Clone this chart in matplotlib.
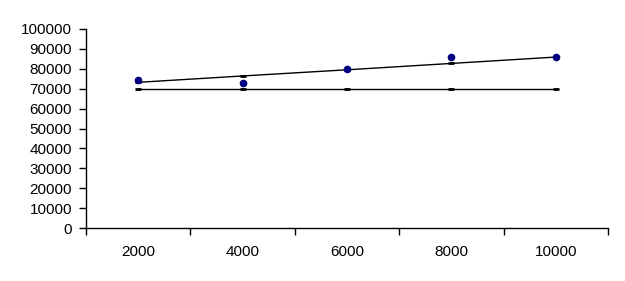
import matplotlib.pyplot as plt
import numpy as np

plt.rcParams['font.family'] = ['Liberation Sans', 'DejaVu Sans']

categories = ['2000', '4000', '6000', '8000', '10000']
measured = [74200, 73000, 80100, 86100, 86100]
trend = [73200, 76400, 79500, 82700, 85900]
baseline = [70000, 70000, 70000, 70000, 70000]

fig = plt.figure(figsize=(6.25, 2.81), dpi=100)
ax = fig.add_axes([0.1376, 0.1886, 0.8352, 0.7082])

x = np.arange(len(categories))
ax.plot(x, baseline, color='black', lw=1.0, marker='_', ms=4, mew=2)
ax.plot(x, trend, color='black', lw=1.0, marker='_', ms=4, mew=2)
ax.plot(x, measured, ls='none', marker='o', ms=4.5, color='#000080')

ax.set_xlim(-0.5, len(categories) - 0.5)
ax.set_ylim(0, 100000)
ax.set_yticks(np.arange(0, 100001, 10000))
ax.set_xticks(x)
ax.set_xticklabels(categories)
ax.set_xticks(np.arange(-0.5, len(categories), 1), minor=True)

ax.tick_params(axis='x', which='major', length=0, pad=12, labelsize=11)
ax.tick_params(axis='x', which='minor', length=5, width=1, direction='out')
ax.tick_params(axis='y', length=5, width=1, direction='out', pad=5, labelsize=11)

for s in ['top', 'right']:
    ax.spines[s].set_visible(False)
for s in ['left', 'bottom']:
    ax.spines[s].set_linewidth(1)

fig.savefig('out.png', dpi=100)
